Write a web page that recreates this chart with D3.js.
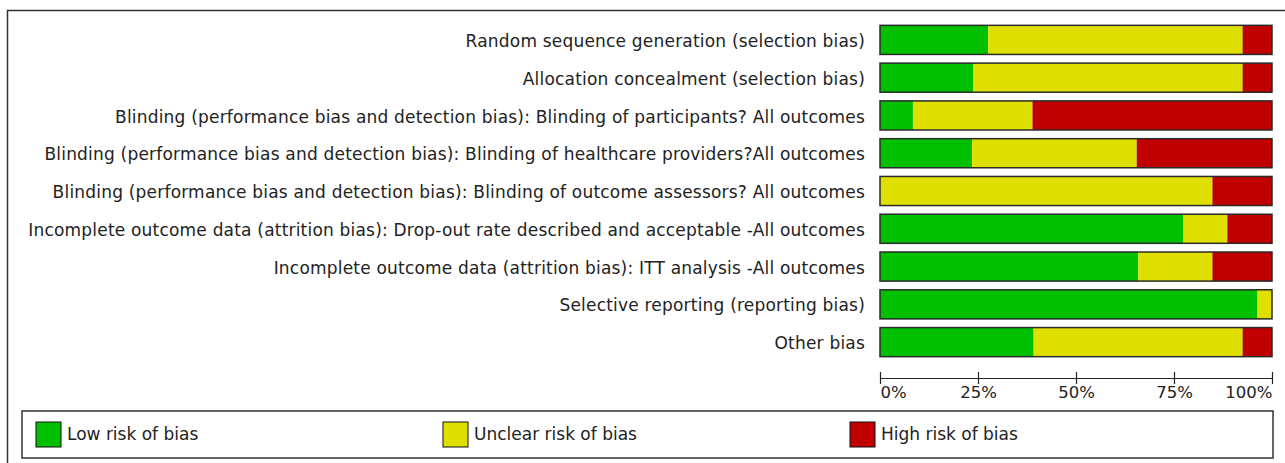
<!DOCTYPE html>
<html>
<head>
<meta charset="utf-8">
<script src="https://cdn.jsdelivr.net/npm/d3@7"></script>
<style>
  body { margin: 0; background: #fff; }
  svg { display: block; }
</style>
</head>
<body>
<div id="app"></div>
<script>
// domains of bias, top to bottom
const domains = [
  "Random sequence generation (selection bias)",
  "Allocation concealment (selection bias)",
  "Blinding (performance bias and detection bias): Blinding of participants? All outcomes",
  "Blinding (performance bias and detection bias): Blinding of healthcare providers?All outcomes",
  "Blinding (performance bias and detection bias): Blinding of outcome assessors? All outcomes",
  "Incomplete outcome data (attrition bias): Drop-out rate described and acceptable -All outcomes",
  "Incomplete outcome data (attrition bias): ITT analysis -All outcomes",
  "Selective reporting (reporting bias)",
  "Other bias"
];

// percent of studies per judgement
const lowRisk     = [27.6, 23.8,  8.4, 23.5,  0.0, 77.4, 65.9, 96.3, 39.2];
const unclearRisk = [64.9, 68.7, 30.5, 42.0, 84.8, 11.2, 18.9,  3.7, 53.3];
const highRisk    = [ 7.5,  7.5, 61.1, 34.5, 15.2, 11.4, 15.2,  0.0,  7.5];

const judgements = ["Low risk of bias", "Unclear risk of bias", "High risk of bias"];
const colors = ["#00c000", "#e0e000", "#c00000"];
const ticks = [0, 25, 50, 75, 100];

const w = 1285,
      h = 463;

const svg = d3.select("#app")
  .append("svg")
  .attr("width", w)
  .attr("height", h);

// outer frame (runs off the right and bottom edges)
svg.append("path")
  .attr("d", `M7.5,${h + 5}V10.5H${w + 5}`)
  .attr("fill", "none")
  .attr("stroke", "#333")
  .attr("stroke-width", 1.5);

const x = d3.scaleLinear()
  .domain([0, 100])
  .range([880, 1272]);

const y = d3.scaleBand()
  .domain(domains)
  .range([21, 361])
  .paddingInner(0.23)
  .paddingOuter(0.115);

const rows = domains.map((d, i) => {
  const vals = [lowRisk[i], unclearRisk[i], highRisk[i]];
  let acc = 0;
  return {
    name: d,
    segs: vals.map((v, j) => {
      const s = { x0: acc, x1: acc + v, j: j };
      acc += v;
      return s;
    })
  };
});

const row = svg.selectAll("g.row")
  .data(rows)
  .enter()
  .append("g")
  .attr("class", "row")
  .attr("transform", d => `translate(0, ${y(d.name)})`);

row.selectAll("rect.seg")
  .data(d => d.segs.filter(s => s.x1 > s.x0))
  .enter()
  .append("rect")
  .attr("class", "seg")
  .attr("x", s => x(s.x0))
  .attr("width", s => x(s.x1) - x(s.x0))
  .attr("height", y.bandwidth())
  .attr("fill", s => colors[s.j]);

row.append("rect")
  .attr("x", x(0))
  .attr("width", x(100) - x(0))
  .attr("height", y.bandwidth())
  .attr("fill", "none")
  .attr("stroke", "#2a2a2a")
  .attr("stroke-width", 1.5);

row.append("text")
  .attr("x", 865)
  .attr("y", y.bandwidth() / 2)
  .attr("dy", "0.42em")
  .attr("text-anchor", "end")
  .attr("font-family", "DejaVu Sans")
  .attr("font-size", 17)
  .attr("letter-spacing", 0.2)
  .attr("fill", "#222")
  .text(d => d.name);

// x axis
const xAxis = d3.axisBottom(x)
  .tickValues(ticks)
  .tickFormat(d => d + "%")
  .tickSize(6)
  .tickSizeOuter(0);

const gx = svg.append("g")
  .attr("transform", "translate(0, 378)")
  .call(xAxis);

gx.select(".domain").attr("stroke", "#222").attr("stroke-width", 1.2);
gx.selectAll(".tick line")
  .attr("y1", -6)
  .attr("y2", 6)
  .attr("stroke", "#222")
  .attr("stroke-width", 1.2);
gx.selectAll(".tick text")
  .attr("y", 8)
  .attr("font-family", "DejaVu Sans")
  .attr("font-size", 16.5)
  .attr("fill", "#222")
  .attr("text-anchor", d => d === 0 ? "start" : d === 100 ? "end" : "middle");

// legend
const legend = svg.append("g")
  .attr("transform", "translate(22, 411)");

legend.append("rect")
  .attr("width", 1251)
  .attr("height", 47)
  .attr("fill", "none")
  .attr("stroke", "#333")
  .attr("stroke-width", 1.5);

const item = legend.selectAll("g.item")
  .data(judgements)
  .enter()
  .append("g")
  .attr("class", "item")
  .attr("transform", (d, i) => `translate(${14 + i * 407}, 11)`);

item.append("rect")
  .attr("width", 25)
  .attr("height", 25)
  .attr("fill", (d, i) => colors[i])
  .attr("stroke", "#111")
  .attr("stroke-width", 1);

item.append("text")
  .attr("x", 31)
  .attr("y", 18)
  .attr("font-family", "DejaVu Sans")
  .attr("font-size", 17)
  .attr("fill", "#222")
  .text(d => d);
</script>
</body>
</html>
